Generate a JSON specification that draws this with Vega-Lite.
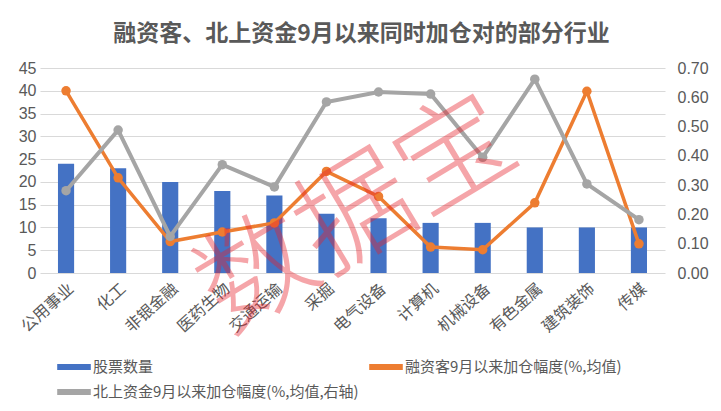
{
  "$schema": "https://vega.github.io/schema/vega-lite/v6.json",
  "width": 625,
  "height": 205,
  "autosize": "none",
  "padding": {"left": 40, "top": 68, "right": 56, "bottom": 138},
  "background": "white",
  "config": {"view": {"stroke": null}, "font": "Liberation Sans, Noto Sans CJK SC"},
  "title": {
    "text": "融资客、北上资金9月以来同时加仓对的部分行业",
    "font": "Noto Sans CJK SC",
    "fontSize": 23,
    "fontWeight": "bold",
    "color": "#595959",
    "anchor": "middle",
    "dx": 9,
    "offset": 14
  },
  "data": {
    "values": [
      {"industry": "公用事业", "stocks": 24, "margin": 40.0, "north": 0.281},
      {"industry": "化工", "stocks": 23, "margin": 20.9, "north": 0.488},
      {"industry": "非银金融", "stocks": 20, "margin": 6.9, "north": 0.125},
      {"industry": "医药生物", "stocks": 18, "margin": 9.0, "north": 0.370},
      {"industry": "交通运输", "stocks": 17, "margin": 11.0, "north": 0.294},
      {"industry": "采掘", "stocks": 13, "margin": 22.3, "north": 0.584},
      {"industry": "电气设备", "stocks": 12, "margin": 16.8, "north": 0.618},
      {"industry": "计算机", "stocks": 11, "margin": 5.7, "north": 0.611},
      {"industry": "机械设备", "stocks": 11, "margin": 5.1, "north": 0.395},
      {"industry": "有色金属", "stocks": 10, "margin": 15.4, "north": 0.662},
      {"industry": "建筑装饰", "stocks": 10, "margin": 39.9, "north": 0.304},
      {"industry": "传媒", "stocks": 10, "margin": 6.4, "north": 0.182}
    ]
  },
  "layer": [
    {
      "layer": [
        {
          "mark": {"type": "bar"},
          "encoding": {
            "x": {
              "field": "industry", "type": "nominal", "sort": null,
              "scale": {"paddingInner": 0.69, "paddingOuter": 0.345},
              "axis": {"title": null, "labelAngle": -42, "labelFontSize": 16, "labelColor": "#595959", "labelFont": "Noto Sans CJK SC", "domain": false, "ticks": false, "labelPadding": 7}
            },
            "y": {
              "field": "stocks", "type": "quantitative",
              "scale": {"domain": [0, 45]},
              "axis": {"title": null, "values": [0, 5, 10, 15, 20, 25, 30, 35, 40, 45], "labelOverlap": false, "domain": false, "ticks": false, "labelFontSize": 16, "labelColor": "#595959", "labelPadding": 4, "grid": true, "gridColor": "#D9D9D9"}
            },
            "color": {
              "datum": "股票数量", "type": "nominal",
              "scale": {
                "domain": ["股票数量", "融资客9月以来加仓幅度(%,均值)", "北上资金9月以来加仓幅度(%,均值,右轴)"],
                "range": ["#4472C4", "#ED7D31", "#A5A5A5"]
              },
              "legend": {
                "title": null, "orient": "none", "legendX": 25, "legendY": 290,
                "direction": "horizontal", "columns": 2,
                "symbolType": "M-2.8,0H2.8", "symbolStrokeWidth": 6, "symbolSize": 144,
                "labelFontSize": 15, "labelColor": "#595959", "labelLimit": 400,
                "labelOffset": 10, "columnPadding": -2, "rowPadding": 1,
                "labelFont": "Noto Sans CJK SC"
              }
            }
          }
        },
        {
          "mark": {"type": "line", "strokeWidth": 3.5, "point": {"filled": true, "size": 90}},
          "encoding": {
            "x": {"field": "industry", "type": "nominal", "sort": null, "scale": {"paddingInner": 0.69, "paddingOuter": 0.345}},
            "y": {
              "field": "margin", "type": "quantitative",
              "scale": {"domain": [0, 45]},
              "axis": {"title": null, "values": [0, 5, 10, 15, 20, 25, 30, 35, 40, 45], "labelOverlap": false, "domain": false, "ticks": false, "labelFontSize": 16, "labelColor": "#595959", "labelPadding": 4, "grid": true, "gridColor": "#D9D9D9"}
            },
            "color": {"datum": "融资客9月以来加仓幅度(%,均值)", "type": "nominal"}
          }
        }
      ]
    },
    {
      "mark": {"type": "line", "strokeWidth": 4, "point": {"filled": true, "size": 90}},
      "encoding": {
        "x": {"field": "industry", "type": "nominal", "sort": null, "scale": {"paddingInner": 0.69, "paddingOuter": 0.345}},
        "y": {
          "field": "north", "type": "quantitative",
          "scale": {"domain": [0, 0.7]},
          "axis": {"orient": "right", "title": null, "values": [0, 0.1, 0.2, 0.3, 0.4, 0.5, 0.6, 0.7], "labelOverlap": false, "format": ".2f", "grid": false, "domain": false, "ticks": false, "labelFontSize": 16, "labelColor": "#595959", "labelPadding": 12}
        },
        "color": {"datum": "北上资金9月以来加仓幅度(%,均值,右轴)", "type": "nominal"}
      }
    },
    {
      "data": {"values": [{"mark": "数据宝"}]},
      "mark": {"type": "text", "angle": -31, "fontSize": 115, "font": "Noto Sans CJK SC", "fontWeight": 300, "align": "center", "baseline": "middle", "dx": 36},
      "encoding": {
        "x": {"datum": "采掘", "type": "nominal"},
        "y": {"datum": 8.4, "type": "quantitative", "scale": {"domain": [0, 45]}, "axis": null},
        "text": {"field": "mark", "type": "nominal"},
        "color": {"value": "#E8202A"},
        "opacity": {"value": 0.4}
      }
    }
  ],
  "resolve": {"scale": {"y": "independent"}}
}
